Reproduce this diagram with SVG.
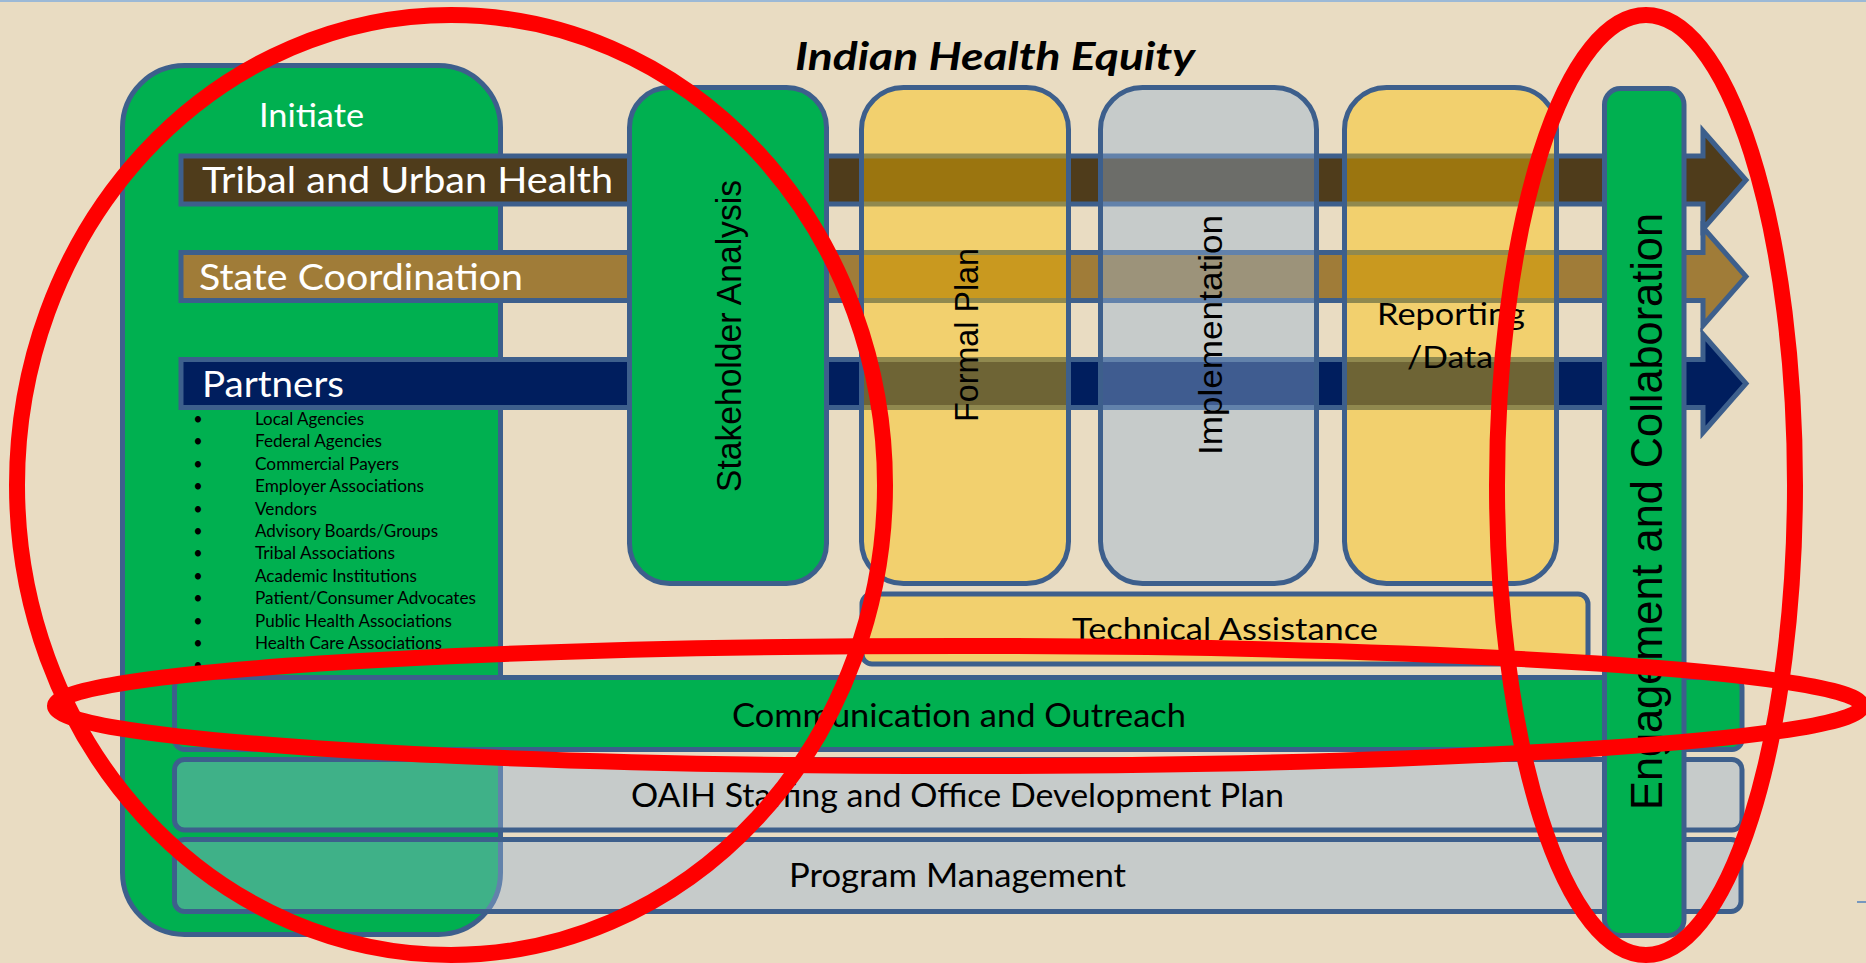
<svg xmlns="http://www.w3.org/2000/svg" width="1866" height="963" viewBox="0 0 1866 963">
<style>
.box{stroke:#3D5F8C;stroke-width:5;stroke-linejoin:round}
.green{fill:#00B050}
.yellow{fill:#FFC000;fill-opacity:0.43}
.gray{fill:#95B3D7;fill-opacity:0.42}
.arrow{stroke:#3D5F8C;stroke-width:5;stroke-linejoin:miter;stroke-miterlimit:10}
.cal{font-family:Lato,"Open Sans","Liberation Sans",sans-serif;fill:#000}
.vt{font-family:"Liberation Sans",Arial,sans-serif;fill:#000}
.wt{fill:#FFFFFF}
.bul{font-size:16.3px}
.red{fill:none;stroke:#FF0000;stroke-width:16}
</style>
<rect x="0" y="0" width="1866" height="963" fill="#E9DCC2"/>
<rect x="0" y="0" width="1866" height="2" fill="#9CB9D6"/>
<line x1="1857" y1="902" x2="1866" y2="902" stroke="#4F81BD" stroke-width="1.5"/>

<g id="initiate">
<rect class="box green" x="122.5" y="65.5" width="378" height="869" rx="62" ry="62"/>
<text class="cal wt" x="259" y="127" font-size="32" textLength="105" lengthAdjust="spacingAndGlyphs">Initiate</text>
<g class="cal bul">
<text x="198" y="425" text-anchor="middle">•</text><text x="255" y="425" textLength="109" lengthAdjust="spacingAndGlyphs">Local Agencies</text>
<text x="198" y="447.4" text-anchor="middle">•</text><text x="255" y="447.4" textLength="127" lengthAdjust="spacingAndGlyphs">Federal Agencies</text>
<text x="198" y="469.8" text-anchor="middle">•</text><text x="255" y="469.8" textLength="144" lengthAdjust="spacingAndGlyphs">Commercial Payers</text>
<text x="198" y="492.2" text-anchor="middle">•</text><text x="255" y="492.2" textLength="169" lengthAdjust="spacingAndGlyphs">Employer Associations</text>
<text x="198" y="514.6" text-anchor="middle">•</text><text x="255" y="514.6" textLength="62" lengthAdjust="spacingAndGlyphs">Vendors</text>
<text x="198" y="537" text-anchor="middle">•</text><text x="255" y="537" textLength="183" lengthAdjust="spacingAndGlyphs">Advisory Boards/Groups</text>
<text x="198" y="559.4" text-anchor="middle">•</text><text x="255" y="559.4" textLength="140" lengthAdjust="spacingAndGlyphs">Tribal Associations</text>
<text x="198" y="581.8" text-anchor="middle">•</text><text x="255" y="581.8" textLength="162" lengthAdjust="spacingAndGlyphs">Academic Institutions</text>
<text x="198" y="604.2" text-anchor="middle">•</text><text x="255" y="604.2" textLength="221" lengthAdjust="spacingAndGlyphs">Patient/Consumer Advocates</text>
<text x="198" y="626.6" text-anchor="middle">•</text><text x="255" y="626.6" textLength="197" lengthAdjust="spacingAndGlyphs">Public Health Associations</text>
<text x="198" y="649" text-anchor="middle">•</text><text x="255" y="649" textLength="187" lengthAdjust="spacingAndGlyphs">Health Care Associations</text>
<text x="198" y="671.4" text-anchor="middle">•</text>
</g>
</g>

<g id="connectors">
<g id="tribal-urban-health">
<path class="arrow" fill="#4F3C1B" d="M181,156 H1703 V131 L1746,180 L1703,229 V204 H181 Z"/>
<text class="cal wt" x="202" y="193" font-size="37" textLength="411" lengthAdjust="spacingAndGlyphs">Tribal and Urban Health</text>
</g>
<g id="state-coordination">
<path class="arrow" fill="#A07C38" d="M181,252.5 H1703 V227.5 L1746,276.5 L1703,325.5 V300.5 H181 Z"/>
<text class="cal wt" x="199" y="290" font-size="37" textLength="324" lengthAdjust="spacingAndGlyphs">State Coordination</text>
</g>
<g id="partners">
<path class="arrow" fill="#001E5E" d="M181,359.5 H1703 V334.5 L1746,383.5 L1703,432.5 V407.5 H181 Z"/>
<text class="cal wt" x="202" y="397" font-size="37" textLength="142" lengthAdjust="spacingAndGlyphs">Partners</text>
</g>
</g>

<g id="stakeholder-analysis">
<rect class="box green" x="629.5" y="87.5" width="197" height="496" rx="40" ry="40"/>
<text class="vt" transform="translate(741,336) rotate(-90)" text-anchor="middle" font-size="35" textLength="312" lengthAdjust="spacingAndGlyphs">Stakeholder Analysis</text>
</g>

<g id="formal-plan">
<rect class="box yellow" x="861.5" y="87.5" width="207" height="496" rx="42" ry="42"/>
<text class="vt" transform="translate(978,335) rotate(-90)" text-anchor="middle" font-size="34" textLength="174" lengthAdjust="spacingAndGlyphs">Formal Plan</text>
</g>

<g id="implementation">
<rect class="box gray" x="1100.5" y="87.5" width="216" height="496" rx="42" ry="42"/>
<text class="vt" transform="translate(1222,335) rotate(-90)" text-anchor="middle" font-size="34" textLength="240" lengthAdjust="spacingAndGlyphs">Implementation</text>
</g>

<g id="reporting-data">
<rect class="box yellow" x="1344.5" y="87.5" width="212" height="496" rx="42" ry="42"/>
<text class="cal" x="1377" y="325" font-size="31" textLength="148" lengthAdjust="spacingAndGlyphs">Reporting</text>
<text class="cal" x="1407" y="368" font-size="31" textLength="86" lengthAdjust="spacingAndGlyphs">/Data</text>
</g>

<g id="technical-assistance">
<rect class="box yellow" x="862" y="594" width="726" height="70" rx="10" ry="10"/>
<text class="cal" x="1072" y="640" font-size="31" textLength="306" lengthAdjust="spacingAndGlyphs">Technical Assistance</text>
</g>

<g id="communication-outreach">
<rect class="box green" x="174.5" y="677.5" width="1567.5" height="72" rx="10" ry="10"/>
<text class="cal" x="732" y="727" font-size="33.5" textLength="454" lengthAdjust="spacingAndGlyphs">Communication and Outreach</text>
</g>

<g id="oaih-staffing">
<rect class="box gray" x="174.5" y="759.5" width="1567.5" height="70.5" rx="10" ry="10"/>
<text class="cal" x="631" y="807" font-size="33.5" textLength="653" lengthAdjust="spacingAndGlyphs">OAIH Staffing and Office Development Plan</text>
</g>

<g id="program-management">
<rect class="box gray" x="174.5" y="839.5" width="1566.5" height="72" rx="10" ry="10"/>
<text class="cal" x="789" y="887" font-size="33" textLength="337" lengthAdjust="spacingAndGlyphs">Program Management</text>
</g>

<g id="engagement-collaboration">
<rect class="box green" x="1604.5" y="88.5" width="79.5" height="847" rx="16" ry="16"/>
<text class="vt" transform="translate(1662,511.5) rotate(-90)" text-anchor="middle" font-size="44" textLength="597" lengthAdjust="spacingAndGlyphs">Engagement and Collaboration</text>
</g>

<g id="title">
<text class="cal" x="795" y="70" font-size="39" font-weight="bold" font-style="italic" textLength="400" lengthAdjust="spacingAndGlyphs">Indian Health Equity</text>
</g>

<g id="annotations">
<ellipse class="red" cx="451" cy="485" rx="434" ry="470"/>
<ellipse class="red" cx="958.5" cy="706" rx="903.5" ry="60"/>
<ellipse class="red" cx="1646" cy="485" rx="149" ry="470"/>
</g>
</svg>
